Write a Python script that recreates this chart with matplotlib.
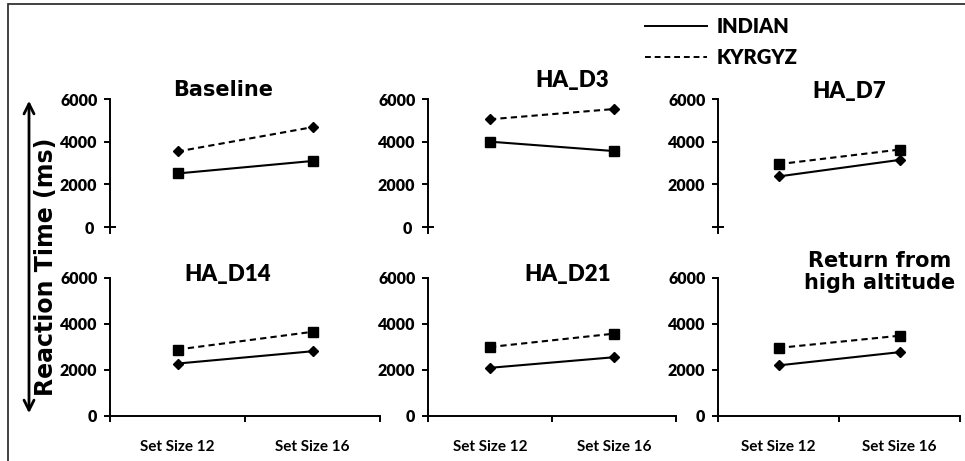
import matplotlib
matplotlib.use("Agg")
import matplotlib.pyplot as plt
from matplotlib.lines import Line2D
from matplotlib.patches import Rectangle, FancyArrowPatch

# values (ms)
conditions = ['Baseline', 'HA_D3', 'HA_D7', 'HA_D14', 'HA_D21', 'Return from\nhigh altitude']
set_sizes = ['Set Size 12', 'Set Size 16']
indian = [[2510, 3095], [4000, 3560], [2370, 3145], [2280, 2815], [2095, 2555], [2200, 2775]]
kyrgyz = [[3540, 4680], [5050, 5530], [2945, 3630], [2890, 3660], [3000, 3580], [2960, 3490]]
yticks = [0, 2000, 4000, 6000]

# marker styles per panel
indian_marker = ['s', 's', 'D', 'D', 'D', 'D']
kyrgyz_marker = ['D', 'D', 's', 's', 's', 's']

W, H = 965, 461
fig = plt.figure(figsize=(W / 100, H / 100), dpi=100)

cols = [(110, 380), (428, 676), (718, 960)]
rows = [(99, 233), (278, 416)]   # top / bottom in px
title_pos = [(223, 90), (572, 81), (849, 91), (228, 275), (568, 275), (880, 272)]
title_font = ['DejaVu Sans', 'Lato', 'Lato', 'Lato', 'Lato', 'DejaVu Sans']

def style_labels(labels, size, weight='heavy'):
    for lab in labels:
        lab.set_fontfamily('Lato')
        lab.set_fontweight(weight)
        lab.set_fontsize(size)

for i, cond in enumerate(conditions):
    r, c = divmod(i, 3)
    x0, x1 = cols[c]
    y0, y1 = rows[r]
    ax = fig.add_axes([x0 / W, 1 - y1 / H, (x1 - x0) / W, (y1 - y0) / H])
    xs = [0.5, 1.5]
    ax.plot(xs, indian[i], color='black', lw=1.5, marker=indian_marker[i],
            ms=7 if indian_marker[i] == 's' else 5.5, clip_on=False)
    ax.plot(xs, kyrgyz[i], color='black', lw=1.5, ls=(0, (3, 2)), marker=kyrgyz_marker[i],
            ms=7 if kyrgyz_marker[i] == 's' else 5.5, clip_on=False)
    ax.set_xlim(0, 2)
    for s in ['top', 'right']:
        ax.spines[s].set_visible(False)
    ax.spines['left'].set_linewidth(1.4)
    ax.tick_params(axis='y', direction='out', length=4, width=1.4, pad=5)
    if r == 0:
        ax.set_ylim(-280, 6000)
        ax.spines['bottom'].set_visible(False)
        ax.set_yticks(yticks[1:])
        ax.set_yticks([0], labels=['' if i == 2 else '0'], minor=True)
        ax.tick_params(axis='y', which='minor', direction='inout', length=9, width=1.4, pad=7)
        ax.set_xticks([])
    else:
        ax.set_ylim(0, 6000)
        ax.spines['bottom'].set_linewidth(1.4)
        ax.set_yticks(yticks)
        ax.set_xticks([0, 1, 2], labels=['', '', ''])
        ax.set_xticks(xs, labels=set_sizes, minor=True)
        ax.tick_params(axis='x', which='major', direction='out', length=4, width=1.4)
        ax.tick_params(axis='x', which='minor', length=0, pad=17)
    style_labels(ax.get_yticklabels(which='both'), 11.5)
    style_labels(ax.get_xticklabels(which='both'), 11, 'bold')
    tx, ty = title_pos[i]
    fig.text(tx / W, 1 - ty / H, cond, ha='center', va='center', family=title_font[i],
             weight='bold' if title_font[i] == 'DejaVu Sans' else 'heavy',
             fontsize=15 if title_font[i] == 'DejaVu Sans' else 16,
             linespacing=1.1)

# legend
handles = [Line2D([], [], color='black', lw=1.4),
           Line2D([], [], color='black', lw=1.4, ls=(0, (3, 2)))]
fig.legend(handles, ['INDIAN', 'KYRGYZ'], loc='upper left', bbox_to_anchor=(645 / W, 1 - 17 / H),
           frameon=False, borderpad=0, borderaxespad=0, handlelength=3.1, handletextpad=0.45,
           labelspacing=0.6, prop=dict(family='Lato', weight='heavy', size=14.5))

# y label with double arrow
fig.add_artist(FancyArrowPatch((29 / W, 1 - 416 / H), (29 / W, 1 - 98 / H), transform=fig.transFigure,
                               arrowstyle='<->', mutation_scale=18, lw=2, color='black'))
fig.text(46 / W, 1 - 267 / H, 'Reaction Time (ms)', rotation=90, ha='center', va='center',
         family='DejaVu Sans', weight='bold', fontsize=17)

# outer frame (cropped at right and bottom)
fig.add_artist(Rectangle((8 / W, -0.2), 1.2, 1.2 - 4 / H, transform=fig.transFigure,
                         fill=False, lw=1.3, edgecolor='#333333'))

fig.savefig('out.png', dpi=100)
